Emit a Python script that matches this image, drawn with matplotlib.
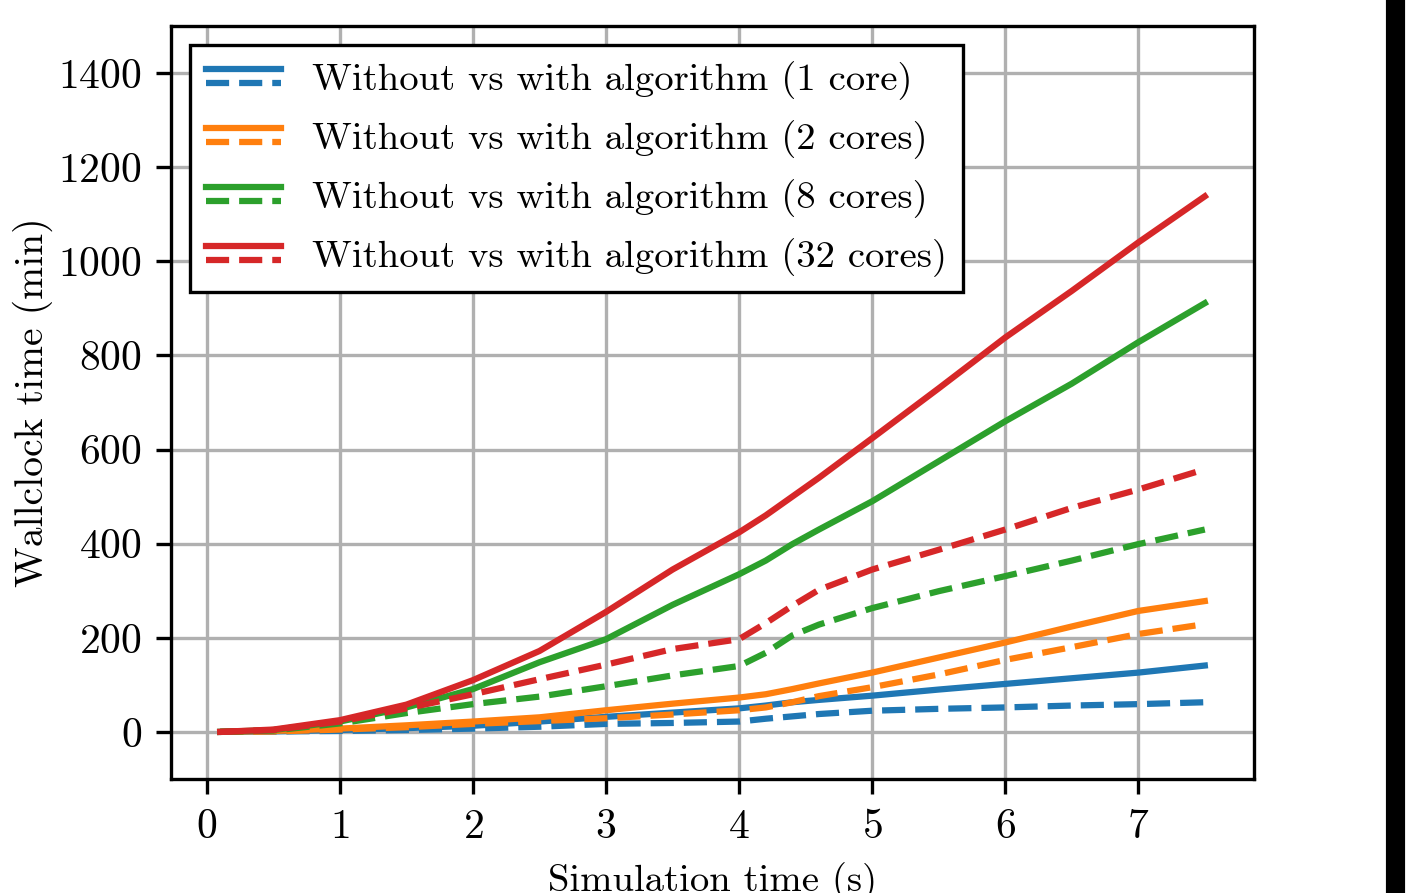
import numpy as np
import matplotlib
matplotlib.use("Agg")
import matplotlib.pyplot as plt
from matplotlib.lines import Line2D
from matplotlib.legend_handler import HandlerBase
from matplotlib.patches import Rectangle

plt.rcParams['font.family'] = 'serif'
plt.rcParams['font.serif'] = ['cmr10']
plt.rcParams['mathtext.fontset'] = 'cm'
plt.rcParams['axes.formatter.use_mathtext'] = True
plt.rcParams['font.size'] = 10

# simulation time (s)
sim_time = [0.1, 0.5, 1.0, 1.5, 2.0, 2.5, 3.0, 3.5, 4.0, 4.2, 4.4, 4.6,
            5.0, 5.5, 6.0, 6.5, 7.0, 7.5]

# wallclock time (min), without / with algorithm
without_1 = [0, 1, 4, 8, 13, 22, 32, 41, 50, 56, 63, 68, 77, 90, 102, 114, 126, 141]
with_1 = [0, 1, 2, 4, 7, 11, 17, 19, 22, 28, 33, 38, 45, 49, 52, 56, 59, 63]
without_2 = [0, 2, 7, 14, 22, 31, 46, 60, 73, 80, 91, 103, 126, 158, 190, 224, 257, 278]
with_2 = [0, 1, 5, 10, 17, 23, 29, 37, 46, 52, 63, 76, 95, 122, 153, 180, 208, 229]
without_8 = [0, 4, 22, 52, 91, 148, 197, 270, 335, 364, 399, 430, 490, 575, 660, 740, 828, 911]
with_8 = [0, 3, 18, 40, 59, 75, 97, 120, 140, 168, 205, 228, 263, 299, 331, 364, 399, 430]
without_32 = [0, 5, 25, 58, 110, 172, 255, 345, 424, 460, 500, 540, 624, 730, 838, 937, 1040, 1138]
with_32 = [0, 4, 22, 50, 80, 112, 143, 176, 197, 231, 268, 302, 345, 387, 430, 476, 515, 558]

labels = ['Without vs with algorithm (1 core)',
          'Without vs with algorithm (2 cores)',
          'Without vs with algorithm (8 cores)',
          'Without vs with algorithm (32 cores)']
colors = ['tab:blue', 'tab:orange', 'tab:green', 'tab:red']
series = [(without_1, with_1), (without_2, with_2), (without_8, with_8), (without_32, with_32)]


class StackedHandler(HandlerBase):
    # solid line on top, dashed line underneath
    def create_artists(self, legend, orig_handle, xdescent, ydescent,
                       width, height, fontsize, trans):
        solid, dashed = orig_handle
        xs = [-xdescent, width - xdescent]
        mid = height / 2 - ydescent
        off = 1.7
        a = Line2D(xs, [mid + off] * 2, color=solid.get_color(), lw=solid.get_linewidth(),
                   linestyle='-', transform=trans)
        b = Line2D(xs, [mid - off] * 2, color=dashed.get_color(), lw=dashed.get_linewidth(),
                   linestyle='--', transform=trans)
        return [a, b]


fig = plt.figure(figsize=(1421 / 300, 893 / 300), dpi=300)
ax = fig.add_axes([0.1203, 0.1277, 0.7622, 0.8432])

handles = []
for (wo, wi), c in zip(series, colors):
    l1, = ax.plot(sim_time, wo, color=c, lw=1.5)
    l2, = ax.plot(sim_time, wi, color=c, lw=1.5, linestyle='--')
    handles.append((l1, l2))

ax.set_ylim(-100, 1500)
ax.set_yticks(np.arange(0, 1401, 200))
ax.set_xticks(range(0, 8))
ax.grid(True)
ax.set_xlabel('Simulation time (s)', fontsize=9.3)
ax.set_ylabel('Wallclock time (min)', fontsize=9.5, labelpad=1.2)

leg = ax.legend(handles, labels, loc='upper left', fontsize=9.3,
                handler_map={tuple: StackedHandler()}, handlelength=1.95,
                fancybox=False, framealpha=1, edgecolor='black', labelspacing=0.52)
leg.get_frame().set_linewidth(0.8)

fig.patches.append(Rectangle((1388 / 1421, 0), 15 / 1421, 1, transform=fig.transFigure,
                             color='black', zorder=10))

fig.savefig('out.png', dpi=300)
